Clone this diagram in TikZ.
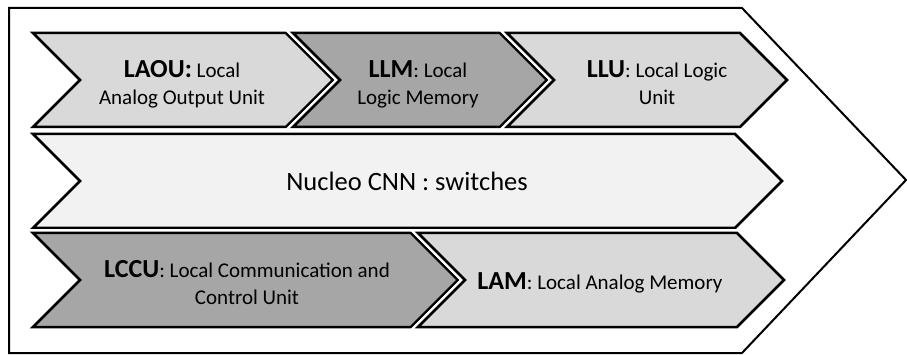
\documentclass[tikz,border=0pt]{standalone}
\usepackage{fontspec}
\setmainfont{Carlito}
\newcommand\tip{47}
\newcommand\half{47}
\newcommand\rowh{94}
\newcommand\txtfont{\fontsize{21}{27}\selectfont}
\newcommand\keyfont{\fontsize{26}{27}\selectfont\bfseries}
% one chevron: left, right, top, fill
\newcommand\chevron[4]{%
  \path[chev, fill=#4] (#1,#3) -- (#2,#3) -- (#2+\tip,#3+\half) -- (#2,#3+\rowh)
    -- (#1,#3+\rowh) -- (#1+\tip,#3+\half) -- cycle;}
\definecolor{darkbox}{HTML}{A6A6A6}
\definecolor{lightbox}{HTML}{D9D9D9}
\definecolor{corebox}{HTML}{F2F2F2}

\begin{document}
\begin{tikzpicture}[x=1pt, y=-1pt,
    chev/.style={draw=black, line width=2.5pt, line join=miter,
      preaction={draw=white, line width=7.5pt, line join=miter}},
    label/.style={inner sep=0pt, align=center, font=\txtfont}]
  \useasboundingbox (0,0) rectangle (907,355);
  % outer arrow
  \draw[line width=2pt, line join=miter, fill=white]
    (9,8) -- (742,8) -- (906,180) -- (742,353) -- (9,353) -- cycle;
  % top row
  \chevron{33}{286}{33}{lightbox}
  \chevron{293}{500}{33}{darkbox}
  \chevron{507}{740}{33}{lightbox}
  % core
  \chevron{33}{735}{134}{corebox}
  % bottom row
  \chevron{33}{411}{233}{darkbox}
  \chevron{418}{737}{233}{lightbox}

  \node[label] (laou) at (182,84) {{\keyfont LAOU:} Local\\Analog Output Unit};
  \node[label] (llm) at (418,84) {{\keyfont LLM}: Local\\Logic Memory};
  \node[label] (llu) at (657,83) {{\keyfont LLU}: Local Logic\\Unit};
  \node[label, font=\fontsize{26.5}{30}\selectfont] (core) at (407,181) {Nucleo CNN : switches};
  \node[label] (lccu) at (247,283) {{\keyfont LCCU}: Local Communication and\\Control Unit};
  \node[label] (lam) at (600,283) {{\keyfont LAM}: Local Analog Memory};
\end{tikzpicture}
\end{document}
